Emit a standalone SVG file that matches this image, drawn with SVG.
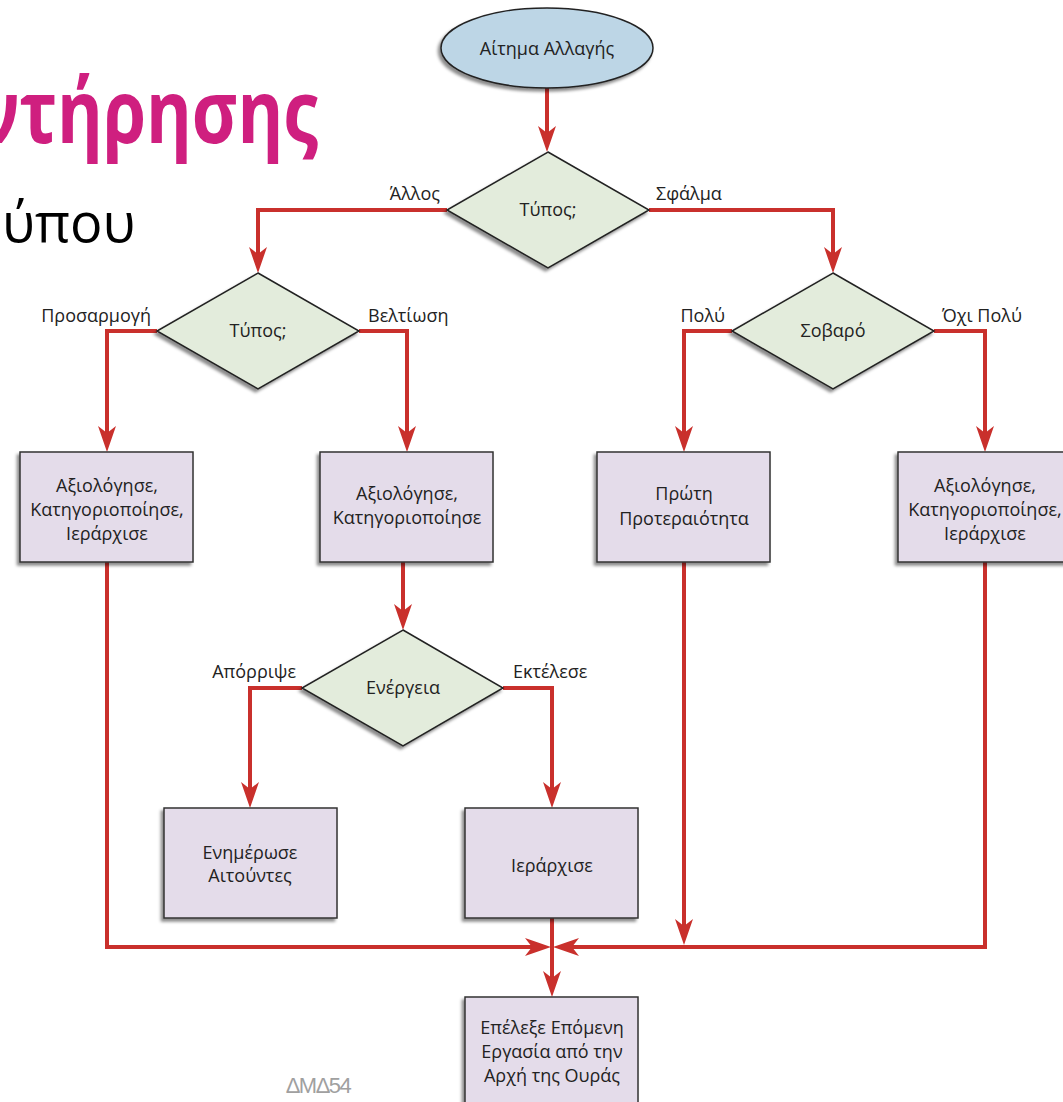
<svg xmlns="http://www.w3.org/2000/svg" width="1063" height="1102" viewBox="0 0 1063 1102">
<defs>
<style>
.box{fill:#e4dcea;stroke:#333;stroke-width:1.5}
.dia{fill:#e3ecdc;stroke:#222;stroke-width:1.5}
.ell{fill:#bdd6e6;stroke:#222;stroke-width:1.5}
.t{font-family:"Open Sans","Noto Sans",sans-serif;font-size:18px;fill:#222;text-anchor:middle}
.lbl{font-family:"Open Sans","Noto Sans",sans-serif;font-size:18px;fill:#222}
.c{fill:none;stroke:#c9302c;stroke-width:4;marker-end:url(#ah)}
</style>
<marker id="ah" markerUnits="userSpaceOnUse" markerWidth="30" markerHeight="22" viewBox="-27 -11 30 22" refX="-7" refY="0" orient="auto">
<path d="M0,0 L-26,-9 L-19,0 L-26,9 Z" fill="#c9302c"/>
</marker>
<filter id="sh" x="-10%" y="-10%" width="120%" height="125%">
<feDropShadow dx="-2.5" dy="3" stdDeviation="1.5" flood-color="#000" flood-opacity="0.45"/>
</filter>
</defs>

<g id="title">
<text x="-22" y="143" font-family="'Open Sans','Noto Sans',sans-serif" font-weight="bold" font-size="88" fill="#cf1f7f" textLength="340" lengthAdjust="spacingAndGlyphs">ντήρησης</text>
<text x="2" y="242" font-family="'Open Sans','Noto Sans',sans-serif" font-size="54" fill="#000">ύπου</text>
</g>

<g id="connectors">
<path class="c" d="M547,88 L547,145"/>
<path class="c" d="M447,210 L258,210 L258,266"/>
<path class="c" d="M649,210 L833,210 L833,266"/>
<path class="c" d="M157,331 L107,331 L107,445"/>
<path class="c" d="M359,331 L407,331 L407,445"/>
<path class="c" d="M732,331 L684,331 L684,445"/>
<path class="c" d="M934,331 L985,331 L985,445"/>
<path class="c" d="M403,562 L403,623"/>
<path class="c" d="M302,688 L250,688 L250,801"/>
<path class="c" d="M503,688 L552,688 L552,801"/>
<path class="c" d="M107,562 L107,947 L544,947"/>
<path class="c" d="M985,562 L985,947 L560,947"/>
<path class="c" d="M684,562 L684,938"/>
<path class="c" d="M552,918 L552,990"/>
</g>

<g id="n-start">
<ellipse class="ell" cx="547" cy="48" rx="106" ry="40" filter="url(#sh)"/>
<text class="t" x="547" y="55" font-size="19.5">Αίτημα Αλλαγής</text>
</g>

<g id="n-type1">
<polygon class="dia" points="548,152 649,210 548,268 447,210" filter="url(#sh)"/>
<text class="t" x="548" y="216">Τύπος;</text>
</g>
<text class="lbl" x="440" y="200" text-anchor="end">Άλλος</text>
<text class="lbl" x="656" y="200">Σφάλμα</text>

<g id="n-type2">
<polygon class="dia" points="258,273 359,331 258,389 157,331" filter="url(#sh)"/>
<text class="t" x="258" y="337">Τύπος;</text>
</g>
<text class="lbl" x="151" y="322" text-anchor="end">Προσαρμογή</text>
<text class="lbl" x="368" y="322">Βελτίωση</text>

<g id="n-serious">
<polygon class="dia" points="833,273 934,331 833,389 732,331" filter="url(#sh)"/>
<text class="t" x="833" y="337">Σοβαρό</text>
</g>
<text class="lbl" x="725" y="322" text-anchor="end">Πολύ</text>
<text class="lbl" x="942" y="322">Όχι Πολύ</text>

<g id="n-box1">
<rect class="box" x="20" y="452" width="173" height="110" filter="url(#sh)"/>
<text class="t" x="107" y="492">Αξιολόγησε,</text>
<text class="t" x="107" y="516">Κατηγοριοποίησε,</text>
<text class="t" x="107" y="540">Ιεράρχισε</text>
</g>

<g id="n-box2">
<rect class="box" x="320" y="452" width="173" height="110" filter="url(#sh)"/>
<text class="t" x="407" y="500">Αξιολόγησε,</text>
<text class="t" x="407" y="524">Κατηγοριοποίησε</text>
</g>

<g id="n-box3">
<rect class="box" x="597" y="452" width="173" height="110" filter="url(#sh)"/>
<text class="t" x="684" y="500">Πρώτη</text>
<text class="t" x="684" y="525">Προτεραιότητα</text>
</g>

<g id="n-box4">
<rect class="box" x="898" y="452" width="173" height="110" filter="url(#sh)"/>
<text class="t" x="985" y="492">Αξιολόγησε,</text>
<text class="t" x="985" y="516">Κατηγοριοποίησε,</text>
<text class="t" x="985" y="540">Ιεράρχισε</text>
</g>

<g id="n-action">
<polygon class="dia" points="403,630 503,688 403,746 302,688" filter="url(#sh)"/>
<text class="t" x="403" y="694">Ενέργεια</text>
</g>
<text class="lbl" x="296" y="678" text-anchor="end">Απόρριψε</text>
<text class="lbl" x="513" y="678">Εκτέλεσε</text>

<g id="n-box5">
<rect class="box" x="164" y="808" width="173" height="110" filter="url(#sh)"/>
<text class="t" x="250" y="859">Ενημέρωσε</text>
<text class="t" x="250" y="882">Αιτούντες</text>
</g>

<g id="n-box6">
<rect class="box" x="465" y="808" width="173" height="110" filter="url(#sh)"/>
<text class="t" x="552" y="872">Ιεράρχισε</text>
</g>

<g id="n-box7">
<rect class="box" x="465" y="997" width="173" height="120" filter="url(#sh)"/>
<text class="t" x="552" y="1034">Επέλεξε Επόμενη</text>
<text class="t" x="552" y="1058">Εργασία από την</text>
<text class="t" x="552" y="1082">Αρχή της Ουράς</text>
</g>

<text x="318" y="1093" font-family="'Liberation Sans',Arial,sans-serif" font-size="22" fill="#a0a0a0" text-anchor="middle" letter-spacing="-1.5">ΔΜΔ54</text>
</svg>
